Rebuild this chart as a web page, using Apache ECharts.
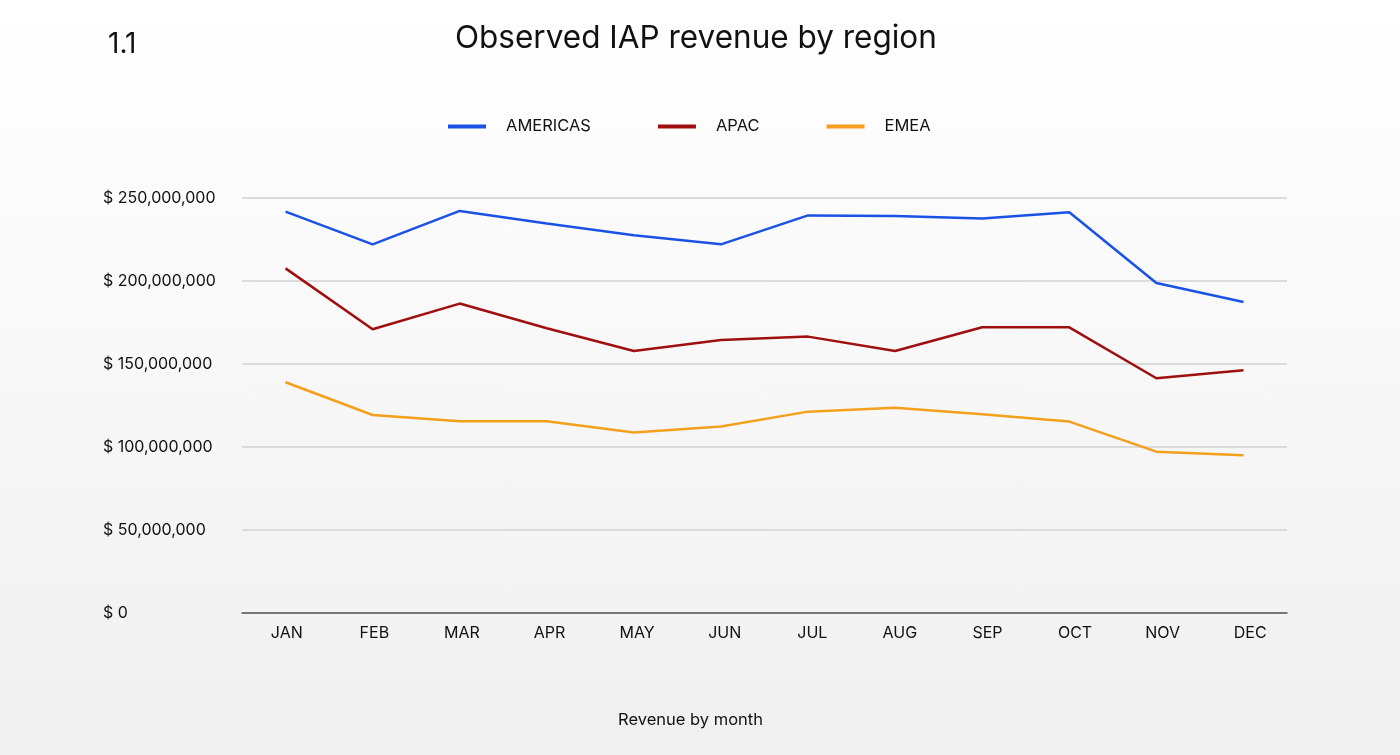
<!DOCTYPE html>
<html>
<head>
<meta charset="utf-8">
<script src="https://cdn.jsdelivr.net/npm/echarts@6/dist/echarts.min.js"></script>
<style>
html,body{margin:0;padding:0;width:1400px;height:755px;overflow:hidden;background:linear-gradient(180deg,#ffffff 0%,#f9f9f9 40%,#f0f0f0 100%);}
#c{width:1400px;height:755px;}
</style>
</head>
<body>
<div id="c"></div>
<script>
const months = ['JAN','FEB','MAR','APR','MAY','JUN','JUL','AUG','SEP','OCT','NOV','DEC'];
const americas = [241.8,222.1,242.2,234.6,227.5,222.1,239.5,239.2,237.6,241.4,198.8,187.4].map(v=>v*1e6);
const apac = [207.6,170.9,186.4,171.5,157.8,164.5,166.5,157.8,172.1,172.1,141.4,146.2].map(v=>v*1e6);
const emea = [139.0,119.3,115.5,115.5,108.7,112.3,121.3,123.7,119.7,115.3,97.2,95.0].map(v=>v*1e6);
const yTicks = [0,50e6,100e6,150e6,200e6,250e6];

const chart = echarts.init(document.getElementById('c'), null, {renderer:'canvas'});
const fam = 'Inter, "Noto Sans", sans-serif';
function fmt(v){ return '$ ' + v.toLocaleString('en-US'); }
chart.setOption({
  backgroundColor:'transparent',
  textStyle:{fontFamily:fam},
  title:[
    {text:'Observed IAP revenue by region', left:450, top:18, textStyle:{fontFamily:fam,fontSize:31.5,fontWeight:'normal',color:'#111'}},
    {text:'1.1', left:103, top:26, textStyle:{fontFamily:fam,fontSize:28,fontWeight:'normal',color:'#111'}},
    {text:'Revenue by month', left:613, top:707, textStyle:{fontFamily:fam,fontSize:16.5,fontWeight:'normal',color:'#111'}}
  ],
  legend:{
    left:443, top:113, icon:'rect', itemWidth:38, itemHeight:4, itemGap:67,
    textStyle:{fontFamily:fam,fontSize:16.5,color:'#111',padding:[0,0,0,15]},
    data:['AMERICAS','APAC','EMEA']
  },
  grid:[
    {left:242,right:113,top:198,bottom:142,containLabel:false},
    {left:243,right:106,top:198,bottom:142,containLabel:false}
  ],
  xAxis:[{
    type:'category', data:months, boundaryGap:true, gridIndex:0,
    axisLine:{lineStyle:{color:'#555',width:1.5}},
    axisTick:{show:false},
    axisLabel:{show:false}
  },{
    type:'category', data:months, boundaryGap:true, gridIndex:1,
    axisLine:{show:false},
    axisTick:{show:false},
    axisLabel:{fontFamily:fam,fontSize:16,color:'#111',margin:12}
  }],
  yAxis:[{
    type:'value', min:0, max:250e6, interval:50e6, gridIndex:0,
    axisLine:{show:false}, axisTick:{show:false},
    splitLine:{lineStyle:{color:'#d2d2d2',width:1.5}},
    axisLabel:{fontFamily:fam,fontSize:16,color:'#111',align:'left',margin:139,formatter:fmt}
  },{
    type:'value', min:0, max:250e6, interval:50e6, gridIndex:1, show:false
  }],
  series:[
    {name:'AMERICAS',type:'line',data:americas,symbol:'none',lineStyle:{width:2.5,color:'#1a52e6'},itemStyle:{color:'#1a52e6'}},
    {name:'APAC',type:'line',data:apac,symbol:'none',lineStyle:{width:2.5,color:'#a00f0f'},itemStyle:{color:'#a00f0f'}},
    {name:'EMEA',type:'line',data:emea,symbol:'none',lineStyle:{width:2.5,color:'#f5a01c'},itemStyle:{color:'#f5a01c'}}
  ]
});
</script>
</body>
</html>
